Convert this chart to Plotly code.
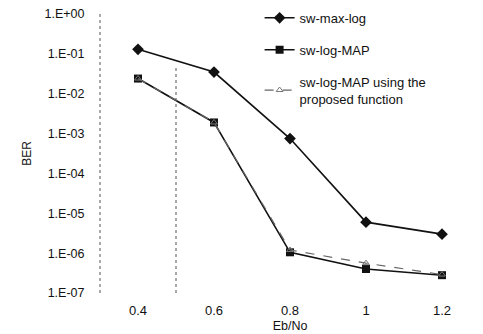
import plotly.graph_objects as go

ebno = [0.4, 0.6, 0.8, 1.0, 1.2]
ebno_labels = ["0.4", "0.6", "0.8", "1", "1.2"]
ber_maxlog = [1.3e-1, 3.5e-2, 7.5e-4, 6.0e-6, 3.0e-6]
ber_logmap = [2.4e-2, 1.9e-3, 1.05e-6, 4.0e-7, 2.8e-7]
ber_proposed = [2.4e-2, 1.9e-3, 1.2e-6, 5.6e-7, 2.9e-7]
y_tickvals = [1e0, 1e-1, 1e-2, 1e-3, 1e-4, 1e-5, 1e-6, 1e-7]
y_ticktext = ["1.E+00", "1.E-01", "1.E-02", "1.E-03", "1.E-04", "1.E-05", "1.E-06", "1.E-07"]

font = "Liberation Sans, Arial, sans-serif"

fig = go.Figure()
fig.add_trace(go.Scatter(
    x=ebno, y=ber_maxlog, name="sw-max-log", legendgroup="a",
    mode="lines+markers",
    line=dict(color="#111", width=1.6),
    marker=dict(symbol="diamond", size=9, color="#111")))
fig.add_trace(go.Scatter(
    x=ebno, y=ber_logmap, name="sw-log-MAP", legendgroup="b",
    mode="lines+markers",
    line=dict(color="#111", width=1.6),
    marker=dict(symbol="square", size=8, color="#111")))
fig.add_trace(go.Scatter(
    x=ebno, y=ber_proposed, name="sw-log-MAP using the<br>proposed function", legendgroup="c",
    mode="lines+markers",
    line=dict(color="#666", width=1.2, dash="dash"),
    marker=dict(symbol="triangle-up-open", size=6, color="#777")))

fig.update_layout(
    width=483, height=334,
    margin=dict(l=100, r=3, t=12, b=41),
    paper_bgcolor="white", plot_bgcolor="white",
    font=dict(family=font, size=12, color="#111"),
    showlegend=True,
    legend=dict(x=0.42, y=1.04, xanchor="left", yanchor="top",
                bgcolor="rgba(0,0,0,0)", tracegroupgap=12,
                font=dict(size=13, family=font, color="#111")),
    xaxis=dict(range=[0.3, 1.3], tickvals=ebno, ticktext=ebno_labels,
               showgrid=False, zeroline=False, showline=False,
               ticks="outside", ticklen=5, tickcolor="rgba(0,0,0,0)",
               tickfont=dict(size=13),
               title=dict(text="Eb/No", font=dict(size=12.5), standoff=4)),
    yaxis=dict(type="log", range=[-7, 0], tickvals=y_tickvals, ticktext=y_ticktext,
               showgrid=False, zeroline=False, showline=False,
               ticks="outside", ticklen=12, tickcolor="rgba(0,0,0,0)",
               tickfont=dict(size=12.5),
               title=dict(text="BER", font=dict(size=12), standoff=10)),
    shapes=[
        dict(type="line", xref="paper", yref="paper", x0=0, x1=0, y0=0, y1=1,
             line=dict(color="#555", width=1, dash="dot")),
        dict(type="line", xref="x", yref="paper", x0=0.5, x1=0.5, y0=0.0, y1=0.81,
             line=dict(color="#555", width=1, dash="dot")),
    ],
)

fig.write_html("out.html")
